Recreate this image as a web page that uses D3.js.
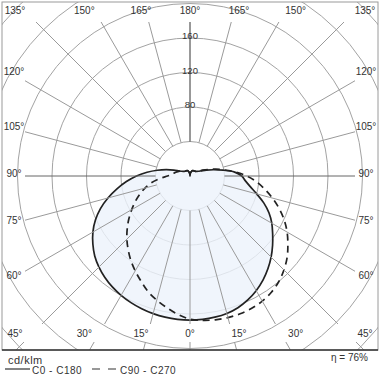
<!DOCTYPE html>
<html><head><meta charset="utf-8">
<script src="https://cdn.jsdelivr.net/npm/d3@7"></script>
<style>html,body{margin:0;padding:0;background:#fff;} svg{display:block;font-family:"Liberation Sans",Arial,sans-serif;}</style>
</head><body><svg id="chart" width="380" height="380"></svg>
<script>
// gamma angles (degrees from nadir)
const angles = d3.range(0, 181, 5);
// intensities in cd/klm
const c0   = [167,166.8,166.2,165,162.5,158.5,153.5,147.5,140.5,133,125,117,109.5,101,91,80,71,64.5,60,52,39,28,20,14,11,9.5,8.5,8,7.5,7.5,7,7,6,5,4,2,0];
const c180 = [167,166.8,166.2,165.2,163.8,162,159.8,157,153.5,149.3,144.2,137.5,130,121,110.5,98.5,86,74,62,50,38.5,28.5,20,14,11,9.5,8.5,8,7.5,7.5,7,7,6,5,4,2,0];
const c90  = [166,168,169.3,170,170,169.3,167.5,164.5,160,154,147,138.5,130,120.5,110,99,88,77.5,66,53,40.5,31,22,16,12,9.5,8.5,8,7.5,7.5,7,7,6,5,4,2,0];
const c270 = [166,161,155,149,142.5,134.5,127,119.5,111.5,103.5,95,86.5,78,70,62,54,45.5,35.5,26,21,19,17,15,13,11,9.5,8.5,8,7.5,7.5,7,7,6,5,4,2,0];
const ringValues = [40, 80, 120, 160, 200, 240, 280];
const ringLabels = [80, 120, 160];
const spokeAngles = d3.range(0, 181, 15);
const unitLabel = "cd/klm";
const legendSolid = "C0 - C180";
const legendDashed = "C90 - C270";
const efficiency = "η = 76%";

const cx = 190, cy = 176;
const frame = {x0: 2, y0: 2, x1: 378, y1: 350};
const r = d3.scaleLinear().domain([0, 40]).range([0, 34.5]);
const rad = d => d * Math.PI / 180;

const svg = d3.select("#chart");
const defs = svg.append("defs");
defs.append("clipPath").attr("id", "frameClip").append("rect")
  .attr("x", frame.x0).attr("y", frame.y0).attr("width", frame.x1 - frame.x0).attr("height", frame.y1 - frame.y0);
const sc = defs.append("clipPath").attr("id", "spokeClip");
sc.append("rect").attr("x", 25).attr("y", 22).attr("width", 330).attr("height", 302);
sc.append("rect").attr("x", frame.x0).attr("y", 342).attr("width", frame.x1 - frame.x0).attr("height", frame.y1 - 342);

const g = svg.append("g").attr("clip-path", "url(#frameClip)");
const gc = g.append("g").attr("transform", `translate(${cx},${cy})`);

// rings
gc.selectAll("circle.ring").data(ringValues).join("circle")
  .attr("class", "ring").attr("r", d => r(d))
  .attr("fill", "none").attr("stroke", "#a3a3a3").attr("stroke-width", 1);

// spokes
const spokes = [];
spokeAngles.forEach(a => {
  spokes.push({a, side: 1});
  if (a !== 0 && a !== 180) spokes.push({a, side: -1});
});
const sg = svg.append("g").attr("clip-path", "url(#spokeClip)")
  .append("g").attr("transform", `translate(${cx},${cy})`);
const far = r(600);
sg.selectAll("line").data(spokes).join("line")
  .attr("x1", d => d.side * r(40) * Math.sin(rad(d.a)))
  .attr("y1", d => r(40) * Math.cos(rad(d.a)))
  .attr("x2", d => d.side * far * Math.sin(rad(d.a)))
  .attr("y2", d => far * Math.cos(rad(d.a)))
  .attr("stroke", d => d.a === 180 ? "#333" : (d.a === 90 ? "#666" : "#9a9a9a"))
  .attr("stroke-width", 1);

// curves
function pts(right, left) {
  const p = [];
  angles.forEach((a, i) => p.push([Math.PI - rad(a), r(right[i])]));
  for (let i = angles.length - 2; i >= 1; i--) p.push([Math.PI + rad(angles[i]), r(left[i])]);
  return p;
}
const radial = d3.lineRadial().angle(d => d[0]).radius(d => d[1]).curve(d3.curveCatmullRomClosed.alpha(0.5));
const solidPts = pts(c0, c180);
const dashedPts = pts(c90, c270);

gc.append("path").attr("d", radial(solidPts))
  .attr("fill", "#ecf3fb").attr("fill-opacity", 0.8).attr("stroke", "none");
gc.append("path").attr("d", radial(dashedPts))
  .attr("fill", "none").attr("stroke", "#222").attr("stroke-width", 1.7)
  .attr("stroke-dasharray", "7,5");
gc.append("path").attr("d", radial(solidPts))
  .attr("fill", "none").attr("stroke", "#222").attr("stroke-width", 1.7);

// ring labels
gc.selectAll("text.rl").data(ringLabels).join("text")
  .attr("class", "rl").attr("x", 0).attr("y", d => -r(d) + 1)
  .attr("text-anchor", "middle").attr("font-size", 9.5).attr("fill", "#333")
  .text(d => d);

// angle labels
const labels = [];
spokeAngles.forEach(a => {
  labels.push({a, side: 1});
  if (a !== 0 && a !== 180) labels.push({a, side: -1});
});
function labelPos(d) {
  const a = d.a;
  if (a <= 45) {
    return [cx + d.side * Math.min(175, 183 * Math.tan(rad(a))), 333];
  } else if (a >= 135) {
    return [cx + d.side * Math.min(175, 183 * Math.tan(rad(180 - a))), 10];
  } else {
    return [cx + d.side * 176, cy + 176 * Math.cos(rad(a)) / Math.sin(rad(a)) - 2.5];
  }
}
svg.append("g").selectAll("text").data(labels).join("text")
  .attr("x", d => labelPos(d)[0]).attr("y", d => labelPos(d)[1])
  .attr("text-anchor", "middle").attr("dominant-baseline", "central")
  .attr("font-size", 10).attr("fill", "#333")
  .text(d => d.a + "°");

// frame
svg.append("rect").attr("x", frame.x0).attr("y", frame.y0)
  .attr("width", frame.x1 - frame.x0).attr("height", frame.y1 - frame.y0)
  .attr("fill", "none").attr("stroke", "#9a9a9a").attr("stroke-width", 1);
svg.append("line").attr("x1", frame.x0).attr("x2", frame.x1).attr("y1", frame.y1).attr("y2", frame.y1)
  .attr("stroke", "#333").attr("stroke-width", 1.5);

// legend
const lg = svg.append("g").attr("fill", "#333");
lg.append("text").attr("x", 8).attr("y", 364).attr("font-size", 11).attr("letter-spacing", 0.5).text(unitLabel);
lg.append("line").attr("x1", 5).attr("x2", 30).attr("y1", 369).attr("y2", 369)
  .attr("stroke", "#333").attr("stroke-width", 1.2);
lg.append("text").attr("x", 32).attr("y", 374).attr("font-size", 10).attr("letter-spacing", 0.5).text(legendSolid);
lg.append("line").attr("x1", 92).attr("x2", 116).attr("y1", 369).attr("y2", 369)
  .attr("stroke", "#333").attr("stroke-width", 1.2).attr("stroke-dasharray", "8,8");
lg.append("text").attr("x", 120).attr("y", 374).attr("font-size", 10).attr("letter-spacing", 0.5).text(legendDashed);
lg.append("text").attr("x", 368).attr("y", 361).attr("text-anchor", "end").attr("font-size", 10).text(efficiency);
</script></body></html>
